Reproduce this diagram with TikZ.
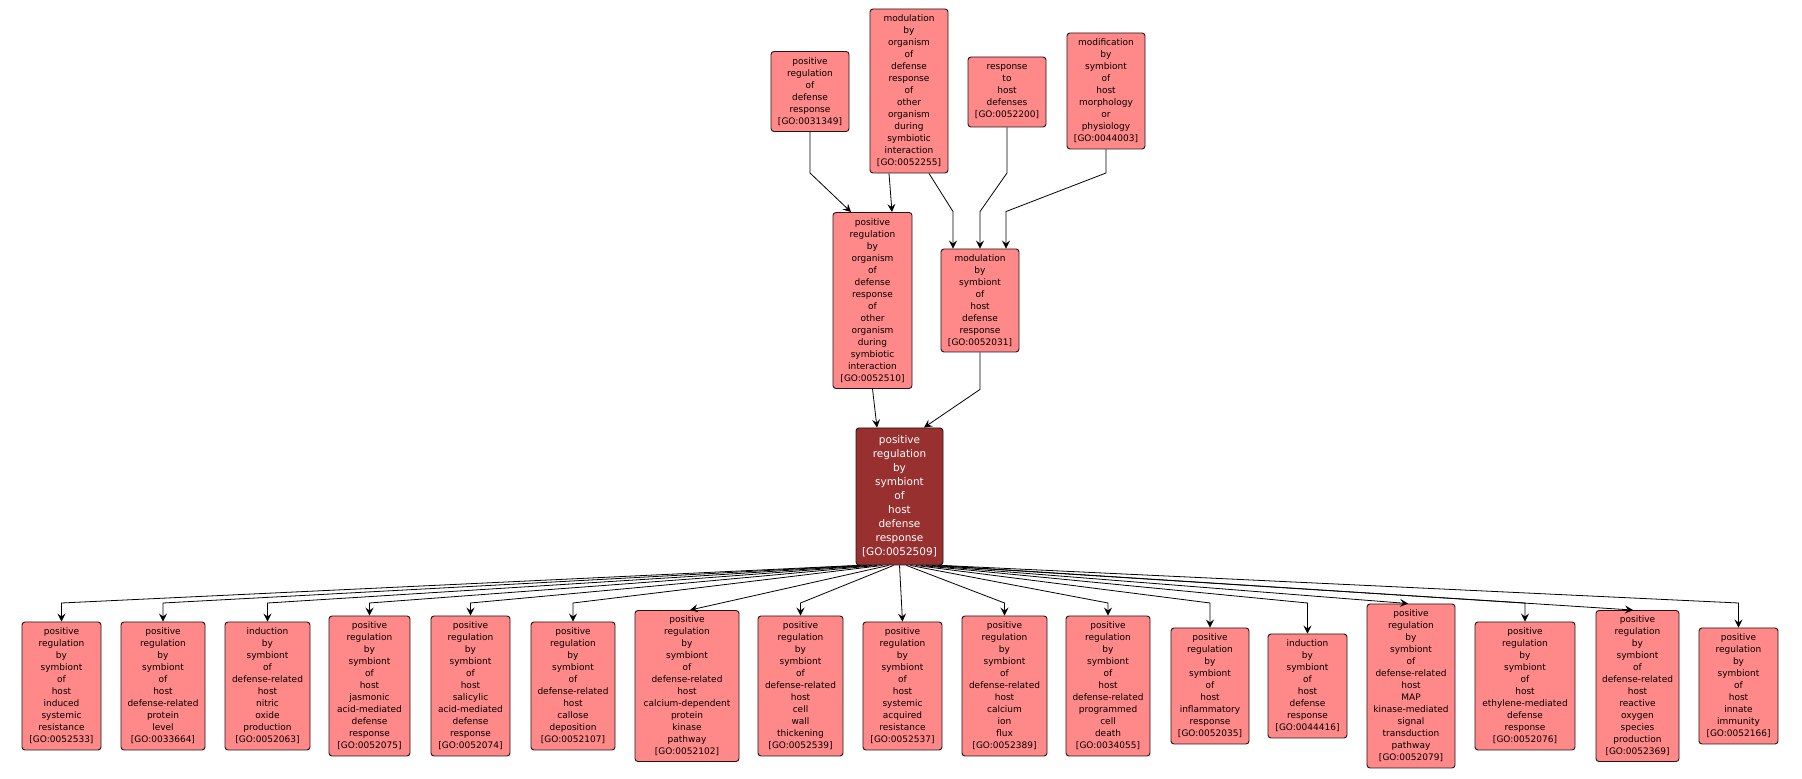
\documentclass[tikz,border=0pt]{standalone}
\usepackage{fontspec}
\setmainfont{DejaVu Sans}
\usetikzlibrary{arrows.meta,calc}
\definecolor{termfill}{RGB}{255,137,137}
\definecolor{hubfill}{RGB}{153,48,48}
\definecolor{bordcol}{RGB}{40,20,20}
\newcommand\goid[1]{[GO:#1]}
\begin{document}
\begin{tikzpicture}[x=1pt,y=1pt,
  term/.style={draw=bordcol, fill=termfill, rounded corners=3pt, line width=0.9pt, align=center,
    font=\fontsize{9}{12}\selectfont, inner sep=0pt, text=black},
  hub/.style={term, fill=hubfill, text=white, font=\fontsize{10.5}{14}\selectfont},
  edge/.style={draw=black, line width=0.8pt, -{Stealth[length=8pt,width=8pt,inset=3pt]}}]
\useasboundingbox (0,0) rectangle (1802,779);
\fill[white] (0,0) rectangle (1802,779);
\coordinate (kb) at (0,176);
\coordinate (ku) at (0,606);
% top row
\node[term, minimum width=78pt, minimum height=80pt] (t1) at (810,687.5) {positive\\regulation\\of\\defense\\response\\\goid{0031349}};
\node[term, minimum width=78pt, minimum height=164pt] (t2) at (909,688) {modulation\\by\\organism\\of\\defense\\response\\of\\other\\organism\\during\\symbiotic\\interaction\\\goid{0052255}};
\node[term, minimum width=78pt, minimum height=70pt] (t3) at (1007,687) {response\\to\\host\\defenses\\\goid{0052200}};
\node[term, minimum width=78pt, minimum height=116pt] (t4) at (1106,688) {modification\\by\\symbiont\\of\\host\\morphology\\or\\physiology\\\goid{0044003}};
% middle row
\node[term, minimum width=79pt, minimum height=176pt] (m1) at (872.5,478.5) {positive\\regulation\\by\\organism\\of\\defense\\response\\of\\other\\organism\\during\\symbiotic\\interaction\\\goid{0052510}};
\node[term, minimum width=78pt, minimum height=103pt] (m2) at (980,478.5) {modulation\\by\\symbiont\\of\\host\\defense\\response\\\goid{0052031}};
% hub
\node[hub, minimum width=87pt, minimum height=137pt] (c) at (899.5,282.5) {positive\\regulation\\by\\symbiont\\of\\host\\defense\\response\\\goid{0052509}};
% bottom row
\node[term, minimum width=79pt, minimum height=128pt] (b1) at (61.5,93) {positive\\regulation\\by\\symbiont\\of\\host\\induced\\systemic\\resistance\\\goid{0052533}};
\node[term, minimum width=84pt, minimum height=128pt] (b2) at (163,93) {positive\\regulation\\by\\symbiont\\of\\host\\defense-related\\protein\\level\\\goid{0033664}};
\node[term, minimum width=85pt, minimum height=128pt] (b3) at (267.5,93) {induction\\by\\symbiont\\of\\defense-related\\host\\nitric\\oxide\\production\\\goid{0052063}};
\node[term, minimum width=81pt, minimum height=140pt] (b4) at (369.5,93) {positive\\regulation\\by\\symbiont\\of\\host\\jasmonic\\acid-mediated\\defense\\response\\\goid{0052075}};
\node[term, minimum width=79pt, minimum height=140pt] (b5) at (470.5,93) {positive\\regulation\\by\\symbiont\\of\\host\\salicylic\\acid-mediated\\defense\\response\\\goid{0052074}};
\node[term, minimum width=84pt, minimum height=128pt] (b6) at (573,93) {positive\\regulation\\by\\symbiont\\of\\defense-related\\host\\callose\\deposition\\\goid{0052107}};
\node[term, minimum width=104pt, minimum height=151pt] (b7) at (687,93) {positive\\regulation\\by\\symbiont\\of\\defense-related\\host\\calcium-dependent\\protein\\kinase\\pathway\\\goid{0052102}};
\node[term, minimum width=85pt, minimum height=140pt] (b8) at (800.5,93) {positive\\regulation\\by\\symbiont\\of\\defense-related\\host\\cell\\wall\\thickening\\\goid{0052539}};
\node[term, minimum width=79pt, minimum height=128pt] (b9) at (902.5,93) {positive\\regulation\\by\\symbiont\\of\\host\\systemic\\acquired\\resistance\\\goid{0052537}};
\node[term, minimum width=85pt, minimum height=140pt] (b10) at (1004.5,93) {positive\\regulation\\by\\symbiont\\of\\defense-related\\host\\calcium\\ion\\flux\\\goid{0052389}};
\node[term, minimum width=84pt, minimum height=140pt] (b11) at (1108,93) {positive\\regulation\\by\\symbiont\\of\\host\\defense-related\\programmed\\cell\\death\\\goid{0034055}};
\node[term, minimum width=78pt, minimum height=116pt] (b12) at (1210,93) {positive\\regulation\\by\\symbiont\\of\\host\\inflammatory\\response\\\goid{0052035}};
\node[term, minimum width=79pt, minimum height=104pt] (b13) at (1307.5,93) {induction\\by\\symbiont\\of\\host\\defense\\response\\\goid{0044416}};
\node[term, minimum width=88pt, minimum height=164pt] (b14) at (1411,93) {positive\\regulation\\by\\symbiont\\of\\defense-related\\host\\MAP\\kinase-mediated\\signal\\transduction\\pathway\\\goid{0052079}};
\node[term, minimum width=100pt, minimum height=128pt] (b15) at (1525,93) {positive\\regulation\\by\\symbiont\\of\\host\\ethylene-mediated\\defense\\response\\\goid{0052076}};
\node[term, minimum width=83pt, minimum height=151pt] (b16) at (1637.5,93) {positive\\regulation\\by\\symbiont\\of\\defense-related\\host\\reactive\\oxygen\\species\\production\\\goid{0052369}};
\node[term, minimum width=79pt, minimum height=116pt] (b17) at (1738.5,93) {positive\\regulation\\by\\symbiont\\of\\host\\innate\\immunity\\\goid{0052166}};
% upper edges
\draw[edge] (t1.south) -- (t1.south |- ku) -- ($(m1.north)+(-21.5,0)$);
\draw[edge] ($(t2.south)+(-20,0)$) -- ($(m1.north)+(19.5,0)$);
\draw[edge] ($(t2.south)+(20,0)$) -- ($(m2.north)+(-27,37)$) -- ($(m2.north)+(-27,0)$);
\draw[edge] (t3.south) -- (t3.south |- ku) -- ($(m2.north)+(0,37)$) -- (m2.north);
\draw[edge] (t4.south) -- (t4.south |- ku) -- ($(m2.north)+(26,37)$) -- ($(m2.north)+(26,0)$);
\draw[edge] (m1.south) -- ($(c.north)+(-22.5,0)$);
\draw[edge] (m2.south) -- ($(m2.south)+(0,-37)$) -- ($(c.north)+(24.5,0)$);
% lower edges
\draw[edge] ($(c.south)+(-43,0)$) -- (b1.north |- kb) -- (b1.north);
\draw[edge] ($(c.south)+(-38.3,0)$) -- (b2.north |- kb) -- (b2.north);
\draw[edge] ($(c.south)+(-32.9,0)$) -- (b3.north |- kb) -- (b3.north);
\draw[edge] ($(c.south)+(-27.6,0)$) -- (b4.north |- kb) -- (b4.north);
\draw[edge] ($(c.south)+(-22.3,0)$) -- (b5.north |- kb) -- (b5.north);
\draw[edge] ($(c.south)+(-17,0)$) -- (b6.north |- kb) -- (b6.north);
\draw[edge] ($(c.south)+(-11,0)$) -- ($(b7.north)+(3,0)$);
\draw[edge] ($(c.south)+(-6,0)$) -- (b8.north |- kb) -- (b8.north);
\draw[edge] (c.south) -- (b9.north);
\draw[edge] ($(c.south)+(7,0)$) -- (b10.north |- kb) -- (b10.north);
\draw[edge] ($(c.south)+(10.8,0)$) -- (b11.north |- kb) -- (b11.north);
\draw[edge] ($(c.south)+(16.1,0)$) -- (b12.north |- kb) -- (b12.north);
\draw[edge] ($(c.south)+(21.2,0)$) -- (b13.north |- kb) -- (b13.north);
\draw[edge] ($(c.south)+(26.6,0)$) -- ($(b14.north)+(-3,0)$);
\draw[edge] ($(c.south)+(32.5,0)$) -- (b15.north |- kb) -- (b15.north);
\draw[edge] ($(c.south)+(38.4,0)$) -- ($(b16.north)+(-4.5,0)$);
\draw[edge] ($(c.south)+(43,0)$) -- (b17.north |- kb) -- (b17.north);
\end{tikzpicture}
\end{document}
